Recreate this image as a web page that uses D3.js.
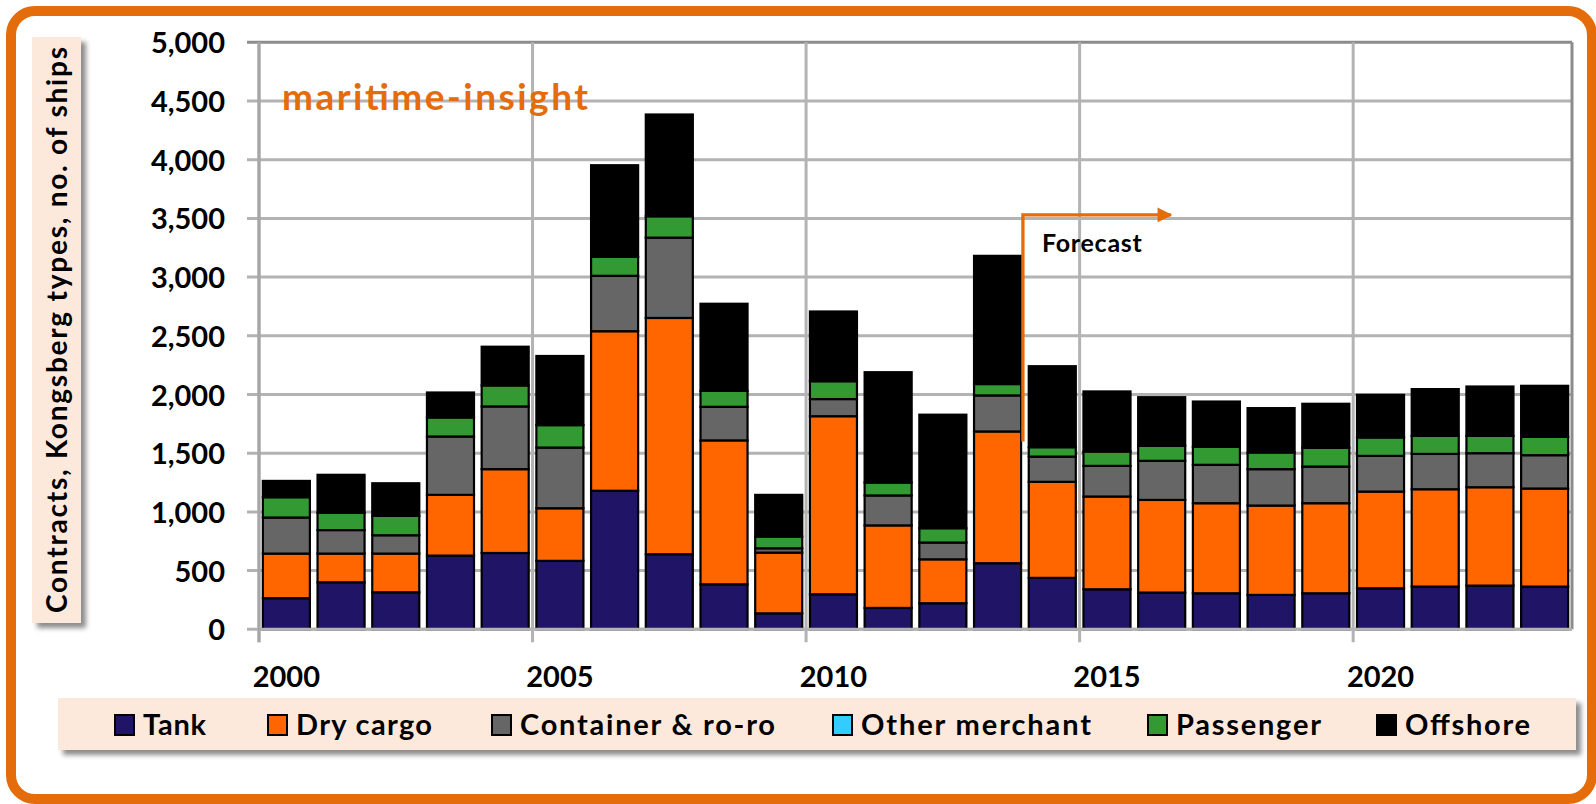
<!DOCTYPE html>
<html>
<head>
<meta charset="utf-8">
<script src="https://cdn.jsdelivr.net/npm/d3@7/dist/d3.min.js"></script>
<style>
  html, body { margin: 0; padding: 0; background: #fff; }
  text { font-family: Lato, "Open Sans", sans-serif; font-weight: bold; }
</style>
</head>
<body>
<div id="chart"></div>
<script>
// years shown on the category axis
const years = [2000, 2001, 2002, 2003, 2004, 2005, 2006, 2007, 2008, 2009, 2010, 2011,
               2012, 2013, 2014, 2015, 2016, 2017, 2018, 2019, 2020, 2021, 2022, 2023];
const yearLabels = ["2000", "2005", "2010", "2015", "2020"];
const yTicks = [0, 500, 1000, 1500, 2000, 2500, 3000, 3500, 4000, 4500, 5000];

// contracts per ship type
const tank      = [265, 400, 315, 628, 650, 583, 1180, 639, 383, 136, 298, 182, 222, 563, 438, 341, 313, 307, 293, 307, 349, 364, 372, 364];
const dryCargo  = [380, 245, 330, 517, 714, 448, 1359, 2013, 1226, 517, 1517, 703, 374, 1122, 818, 790, 789, 767, 761, 767, 824, 829, 838, 835];
const container = [307, 200, 156, 497, 534, 517, 472, 684, 286, 37, 146, 255, 143, 307, 215, 261, 333, 327, 310, 312, 304, 301, 290, 284];
const otherMerchant = [0, 0, 0, 0, 0, 0, 0, 0, 0, 0, 0, 0, 0, 0, 0, 0, 0, 0, 0, 0, 0, 0, 0, 0];
const passenger = [173, 147, 165, 162, 179, 191, 161, 182, 136, 100, 152, 110, 122, 97, 80, 122, 128, 153, 142, 160, 157, 154, 148, 156];
const offshore  = [139, 324, 278, 213, 330, 589, 781, 867, 742, 355, 594, 940, 967, 1092, 690, 512, 414, 386, 378, 375, 363, 398, 420, 435];

const seriesNames  = ["Tank", "Dry cargo", "Container & ro-ro", "Other merchant", "Passenger", "Offshore"];
const seriesKeys   = ["tank", "dry", "container", "other", "passenger", "offshore"];
const seriesColors = ["#1f1465", "#ff6600", "#666666", "#33ccff", "#339933", "#000000"];
const forecastFrom = 2014;

const W = 1596, H = 804;
const margin = { left: 259, right: 1572, top: 42.3, bottom: 629.3 };

const svg = d3.select("#chart").append("svg")
    .attr("width", W)
    .attr("height", H);

const defs = svg.append("defs");
const shadow = defs.append("filter").attr("id", "shadow")
    .attr("x", "-10%").attr("y", "-10%").attr("width", "130%").attr("height", "130%");
shadow.append("feDropShadow")
    .attr("dx", 5).attr("dy", 5).attr("stdDeviation", 2.5)
    .attr("flood-color", "#000").attr("flood-opacity", 0.45);

svg.append("rect").attr("width", W).attr("height", H).attr("fill", "#fff");

// orange frame
svg.append("rect")
    .attr("x", 11).attr("y", 11)
    .attr("width", 1581).attr("height", 788)
    .attr("rx", 24).attr("ry", 24)
    .attr("fill", "none")
    .attr("stroke", "#e46c0a")
    .attr("stroke-width", 10);

const table = years.map((y, i) => ({
    year: y,
    tank: tank[i], dry: dryCargo[i], container: container[i],
    other: otherMerchant[i], passenger: passenger[i], offshore: offshore[i]
}));

const x = d3.scaleBand()
    .domain(years)
    .range([margin.left, margin.right])
    .paddingInner(0.14)
    .paddingOuter(0.07);

const y = d3.scaleLinear()
    .domain([0, 5000])
    .range([margin.bottom, margin.top]);

// horizontal grid
svg.append("g")
    .selectAll("line")
    .data(yTicks)
    .enter().append("line")
    .attr("x1", margin.left - 12)
    .attr("x2", margin.right)
    .attr("y1", d => y(d))
    .attr("y2", d => y(d))
    .attr("stroke", d => d === 5000 ? "#8c8c8c" : "#b3b3b3")
    .attr("stroke-width", 3);

// vertical grid at every fifth year boundary
const step = x.step();
const boundary = yr => x(yr) - x.paddingInner() * step / 2;
svg.append("g")
    .selectAll("line")
    .data(yearLabels.map(Number))
    .enter().append("line")
    .attr("x1", d => boundary(d))
    .attr("x2", d => boundary(d))
    .attr("y1", margin.top)
    .attr("y2", margin.bottom + 13)
    .attr("stroke", "#b3b3b3")
    .attr("stroke-width", 3);

// right border of plot area
svg.append("line")
    .attr("x1", margin.right).attr("x2", margin.right)
    .attr("y1", margin.top).attr("y2", margin.bottom)
    .attr("stroke", "#8c8c8c").attr("stroke-width", 3);

// stacked bars
const stack = d3.stack().keys(seriesKeys);
const layers = stack(table);
const color = d3.scaleOrdinal().domain(seriesKeys).range(seriesColors);

svg.append("g")
    .selectAll("g")
    .data(layers)
    .enter().append("g")
    .attr("fill", d => color(d.key))
    .selectAll("rect")
    .data(d => d.filter(s => s[1] - s[0] > 0))
    .enter().append("rect")
    .attr("x", d => x(d.data.year))
    .attr("width", x.bandwidth())
    .attr("y", d => y(d[1]))
    .attr("height", d => y(d[0]) - y(d[1]))
    .attr("stroke", "#000")
    .attr("stroke-width", 2.2);

// bottom axis line on top of bars
svg.append("line")
    .attr("x1", margin.left).attr("x2", margin.right)
    .attr("y1", margin.bottom).attr("y2", margin.bottom)
    .attr("stroke", "#b3b3b3").attr("stroke-width", 3);
svg.append("line")
    .attr("x1", margin.left).attr("x2", margin.left)
    .attr("y1", margin.top).attr("y2", margin.bottom + 13)
    .attr("stroke", "#a6a6a6").attr("stroke-width", 3);

// y tick labels
svg.append("g")
    .selectAll("text")
    .data(yTicks)
    .enter().append("text")
    .attr("x", 225)
    .attr("y", d => y(d) + 11)
    .attr("text-anchor", "end")
    .attr("font-size", 29)
    .attr("fill", "#000")
    .text(d => d3.format(",")(d));

// x tick labels
svg.append("g")
    .selectAll("text")
    .data(yearLabels)
    .enter().append("text")
    .attr("x", d => x(+d) + x.bandwidth() / 2)
    .attr("y", 687)
    .attr("text-anchor", "middle")
    .attr("font-size", 29)
    .attr("fill", "#000")
    .text(d => d);

// y axis title box
svg.append("rect")
    .attr("x", 32).attr("y", 37)
    .attr("width", 49).attr("height", 586)
    .attr("fill", "#fde9dc")
    .attr("filter", "url(#shadow)");
svg.append("text")
    .attr("transform", "translate(67," + 330 + ") rotate(-90)")
    .attr("text-anchor", "middle")
    .attr("font-size", 28)
    .attr("textLength", 566)
    .attr("fill", "#000")
    .text("Contracts, Kongsberg types, no. of ships");

// brand
svg.append("text")
    .attr("x", 282).attr("y", 110)
    .attr("font-size", 37)
    .attr("textLength", 306)
    .attr("fill", "#e46c0a")
    .text("maritime-insight");

// forecast arrow
defs.append("marker")
    .attr("id", "arrow")
    .attr("viewBox", "0 0 10 10")
    .attr("refX", 9).attr("refY", 5)
    .attr("markerWidth", 5).attr("markerHeight", 4.5)
    .attr("orient", "auto")
    .append("path")
    .attr("d", "M0,0 L10,5 L0,10 Z")
    .attr("fill", "#e46c0a");

const fx = boundary(forecastFrom) - 2;
svg.append("path")
    .attr("d", `M${fx},${y(1600)} L${fx},${y(3530)} L${fx + 148},${y(3530)}`)
    .attr("fill", "none")
    .attr("stroke", "#e46c0a")
    .attr("stroke-width", 3.3)
    .attr("marker-end", "url(#arrow)");
svg.append("text")
    .attr("x", fx + 19).attr("y", 252)
    .attr("font-size", 25)
    .attr("textLength", 100)
    .attr("fill", "#000")
    .text("Forecast");

// legend
const legendX = [115, 268, 492, 833, 1148, 1377];
const legendTextW = [63, 136, 255, 230, 145, 125];
svg.append("rect")
    .attr("x", 58).attr("y", 698)
    .attr("width", 1518).attr("height", 52)
    .attr("fill", "#fde9dc")
    .attr("filter", "url(#shadow)");

const legend = svg.append("g")
    .selectAll("g")
    .data(seriesNames)
    .enter().append("g")
    .attr("transform", (d, i) => `translate(${legendX[i]},715)`);
legend.append("rect")
    .attr("width", 19).attr("height", 20)
    .attr("fill", (d, i) => seriesColors[i])
    .attr("stroke", "#000")
    .attr("stroke-width", 2);
legend.append("text")
    .attr("x", 28).attr("y", 20)
    .attr("font-size", 29)
    .attr("textLength", (d, i) => legendTextW[i])
    .attr("fill", "#000")
    .text(d => d);
</script>
</body>
</html>
